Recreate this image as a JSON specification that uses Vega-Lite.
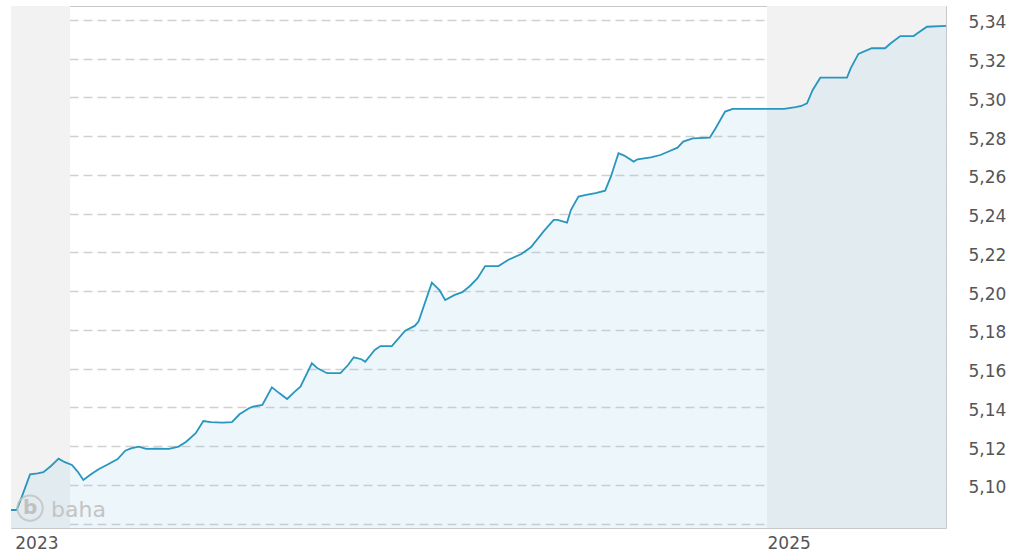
{
  "$schema": "https://vega.github.io/schema/vega-lite/v6.json",
  "width": 935,
  "height": 522,
  "padding": {"left": 7, "top": 6, "right": 0, "bottom": 0},
  "background": "#ffffff",
  "config": {
    "view": {"stroke": "#c8c8c8", "strokeWidth": 1},
    "font": "DejaVu Sans"
  },
  "datasets": {
    "series": [
      {"date": "2023-12-01T00:00:00", "value": 5.0871},
      {"date": "2023-12-04T00:00:00", "value": 5.0871},
      {"date": "2023-12-07T00:00:00", "value": 5.0948},
      {"date": "2023-12-11T00:00:00", "value": 5.1055},
      {"date": "2023-12-15T00:00:00", "value": 5.1060},
      {"date": "2023-12-18T00:00:00", "value": 5.1066},
      {"date": "2023-12-22T00:00:00", "value": 5.1098},
      {"date": "2023-12-26T00:00:00", "value": 5.1136},
      {"date": "2023-12-29T00:00:00", "value": 5.1119},
      {"date": "2024-01-02T00:00:00", "value": 5.1103},
      {"date": "2024-01-05T00:00:00", "value": 5.1069},
      {"date": "2024-01-08T00:00:00", "value": 5.1026},
      {"date": "2024-01-12T00:00:00", "value": 5.1055},
      {"date": "2024-01-16T00:00:00", "value": 5.1081},
      {"date": "2024-01-21T00:00:00", "value": 5.1107},
      {"date": "2024-01-26T00:00:00", "value": 5.1134},
      {"date": "2024-01-30T00:00:00", "value": 5.1177},
      {"date": "2024-02-02T00:00:00", "value": 5.1189},
      {"date": "2024-02-06T00:00:00", "value": 5.1198},
      {"date": "2024-02-10T00:00:00", "value": 5.1186},
      {"date": "2024-02-15T00:00:00", "value": 5.1187},
      {"date": "2024-02-22T00:00:00", "value": 5.1186},
      {"date": "2024-02-27T00:00:00", "value": 5.1198},
      {"date": "2024-03-02T00:00:00", "value": 5.1223},
      {"date": "2024-03-07T00:00:00", "value": 5.1267},
      {"date": "2024-03-11T00:00:00", "value": 5.1330},
      {"date": "2024-03-15T00:00:00", "value": 5.1324},
      {"date": "2024-03-21T00:00:00", "value": 5.1322},
      {"date": "2024-03-26T00:00:00", "value": 5.1324},
      {"date": "2024-03-30T00:00:00", "value": 5.1365},
      {"date": "2024-04-04T00:00:00", "value": 5.1396},
      {"date": "2024-04-06T00:00:00", "value": 5.1404},
      {"date": "2024-04-11T00:00:00", "value": 5.1413},
      {"date": "2024-04-16T00:00:00", "value": 5.1504},
      {"date": "2024-04-20T00:00:00", "value": 5.1473},
      {"date": "2024-04-24T00:00:00", "value": 5.1444},
      {"date": "2024-04-28T00:00:00", "value": 5.1482},
      {"date": "2024-05-01T00:00:00", "value": 5.1507},
      {"date": "2024-05-07T00:00:00", "value": 5.1628},
      {"date": "2024-05-10T00:00:00", "value": 5.1602},
      {"date": "2024-05-15T00:00:00", "value": 5.1577},
      {"date": "2024-05-22T00:00:00", "value": 5.1577},
      {"date": "2024-05-26T00:00:00", "value": 5.1619},
      {"date": "2024-05-29T00:00:00", "value": 5.1659},
      {"date": "2024-06-02T00:00:00", "value": 5.1649},
      {"date": "2024-06-04T00:00:00", "value": 5.1636},
      {"date": "2024-06-09T00:00:00", "value": 5.1697},
      {"date": "2024-06-12T00:00:00", "value": 5.1717},
      {"date": "2024-06-18T00:00:00", "value": 5.1717},
      {"date": "2024-06-25T00:00:00", "value": 5.1796},
      {"date": "2024-06-30T00:00:00", "value": 5.1821},
      {"date": "2024-07-02T00:00:00", "value": 5.1843},
      {"date": "2024-07-09T00:00:00", "value": 5.2044},
      {"date": "2024-07-13T00:00:00", "value": 5.2006},
      {"date": "2024-07-16T00:00:00", "value": 5.1955},
      {"date": "2024-07-21T00:00:00", "value": 5.1981},
      {"date": "2024-07-25T00:00:00", "value": 5.1995},
      {"date": "2024-07-29T00:00:00", "value": 5.2027},
      {"date": "2024-08-02T00:00:00", "value": 5.2067},
      {"date": "2024-08-06T00:00:00", "value": 5.2130},
      {"date": "2024-08-13T00:00:00", "value": 5.2130},
      {"date": "2024-08-18T00:00:00", "value": 5.2161},
      {"date": "2024-08-25T00:00:00", "value": 5.2192},
      {"date": "2024-08-30T00:00:00", "value": 5.2227},
      {"date": "2024-09-06T00:00:00", "value": 5.2313},
      {"date": "2024-09-11T00:00:00", "value": 5.2368},
      {"date": "2024-09-13T00:00:00", "value": 5.2368},
      {"date": "2024-09-18T00:00:00", "value": 5.2354},
      {"date": "2024-09-20T00:00:00", "value": 5.2419},
      {"date": "2024-09-24T00:00:00", "value": 5.2488},
      {"date": "2024-09-28T00:00:00", "value": 5.2497},
      {"date": "2024-10-03T00:00:00", "value": 5.2506},
      {"date": "2024-10-08T00:00:00", "value": 5.2519},
      {"date": "2024-10-11T00:00:00", "value": 5.2591},
      {"date": "2024-10-15T00:00:00", "value": 5.2712},
      {"date": "2024-10-18T00:00:00", "value": 5.2700},
      {"date": "2024-10-23T00:00:00", "value": 5.2669},
      {"date": "2024-10-25T00:00:00", "value": 5.2681},
      {"date": "2024-11-01T00:00:00", "value": 5.2691},
      {"date": "2024-11-06T00:00:00", "value": 5.2703},
      {"date": "2024-11-10T00:00:00", "value": 5.2720},
      {"date": "2024-11-15T00:00:00", "value": 5.2741},
      {"date": "2024-11-18T00:00:00", "value": 5.2772},
      {"date": "2024-11-23T00:00:00", "value": 5.2789},
      {"date": "2024-12-02T00:00:00", "value": 5.2793},
      {"date": "2024-12-05T00:00:00", "value": 5.2841},
      {"date": "2024-12-10T00:00:00", "value": 5.2927},
      {"date": "2024-12-14T00:00:00", "value": 5.2941},
      {"date": "2025-01-10T00:00:00", "value": 5.2941},
      {"date": "2025-01-16T00:00:00", "value": 5.2950},
      {"date": "2025-01-19T00:00:00", "value": 5.2956},
      {"date": "2025-01-22T00:00:00", "value": 5.2970},
      {"date": "2025-01-25T00:00:00", "value": 5.3039},
      {"date": "2025-01-29T00:00:00", "value": 5.3102},
      {"date": "2025-02-12T00:00:00", "value": 5.3102},
      {"date": "2025-02-14T00:00:00", "value": 5.3151},
      {"date": "2025-02-18T00:00:00", "value": 5.3225},
      {"date": "2025-02-25T00:00:00", "value": 5.3254},
      {"date": "2025-03-04T00:00:00", "value": 5.3254},
      {"date": "2025-03-07T00:00:00", "value": 5.3280},
      {"date": "2025-03-12T00:00:00", "value": 5.3317},
      {"date": "2025-03-19T00:00:00", "value": 5.3317},
      {"date": "2025-03-21T00:00:00", "value": 5.3331},
      {"date": "2025-03-26T00:00:00", "value": 5.3365},
      {"date": "2025-04-05T00:00:00", "value": 5.3369}
    ],
    "bands": [
      {"start": "2023-12-01T00:00:00", "end": "2024-01-01T00:00:00"},
      {"start": "2025-01-01T00:00:00", "end": "2025-04-05T00:00:00"}
    ],
    "logo": [
      {"date": "2023-12-11T00:00:00", "value": 5.0881, "mark": "b", "word": "baha", "wdate": "2023-12-22T00:00:00", "wvalue": 5.0835}
    ]
  },
  "layer": [
    {
      "data": {"name": "bands"},
      "mark": {"type": "rect", "color": "#f2f2f2"},
      "encoding": {
        "x": {"field": "start", "type": "temporal"},
        "x2": {"field": "end"}
      }
    },
    {
      "data": {"name": "series"},
      "mark": {"type": "area", "color": "#8fc6e0", "opacity": 0.16, "clip": true},
      "encoding": {
        "x": {"field": "date", "type": "temporal"},
        "y": {"field": "value", "type": "quantitative"}
      }
    },
    {
      "data": {"name": "series"},
      "mark": {"type": "line", "color": "#2896bf", "strokeWidth": 1.8, "interpolate": "linear"},
      "encoding": {
        "x": {
          "field": "date",
          "type": "temporal",
          "scale": {"domain": [{"year": 2023, "month": 12, "date": 1}, {"year": 2025, "month": 4, "date": 5}]},
          "axis": {
            "title": null,
            "values": [{"year": 2023, "month": 12, "date": 3}, {"year": 2025, "month": 1, "date": 1}],
            "format": "%Y",
            "labelAlign": "left",
            "labelFont": "DejaVu Sans",
            "labelFontSize": 17,
            "labelColor": "#555555",
            "labelPadding": 7,
            "ticks": false,
            "domain": false,
            "grid": false
          }
        },
        "y": {
          "field": "value",
          "type": "quantitative",
          "scale": {"domain": [5.0778, 5.3472], "nice": false, "zero": false},
          "axis": {
            "orient": "right",
            "title": null,
            "values": [5.08, 5.10, 5.12, 5.14, 5.16, 5.18, 5.20, 5.22, 5.24, 5.26, 5.28, 5.30, 5.32, 5.34],
            "labelExpr": "datum.value < 5.09 ? '' : replace(format(datum.value, '.2f'), '.', ',')",
            "labelFont": "DejaVu Sans",
            "labelFontSize": 17,
            "labelColor": "#555555",
            "labelPadding": 22,
            "labelOffset": 3,
            "ticks": false,
            "domain": false,
            "grid": true,
            "gridColor": "#d0d0d0",
            "gridDash": [9, 5],
            "gridWidth": 1.3
          }
        }
      }
    },
    {
      "data": {"name": "logo"},
      "mark": {"type": "point", "shape": "circle", "filled": false, "stroke": "#c4c4c4", "strokeWidth": 2, "size": 640, "opacity": 0.85},
      "encoding": {
        "x": {"field": "date", "type": "temporal"},
        "y": {"field": "value", "type": "quantitative"}
      }
    },
    {
      "data": {"name": "logo"},
      "mark": {"type": "text", "font": "DejaVu Sans", "fontSize": 20, "fontWeight": "bold", "color": "#c0c0c0", "baseline": "middle", "align": "center"},
      "encoding": {
        "x": {"field": "date", "type": "temporal"},
        "y": {"field": "value", "type": "quantitative"},
        "text": {"field": "mark"}
      }
    },
    {
      "data": {"name": "logo"},
      "mark": {"type": "text", "font": "DejaVu Sans", "fontSize": 22, "color": "#c4c4c4", "baseline": "alphabetic", "align": "left"},
      "encoding": {
        "x": {"field": "wdate", "type": "temporal"},
        "y": {"field": "wvalue", "type": "quantitative"},
        "text": {"field": "word"}
      }
    }
  ]
}
